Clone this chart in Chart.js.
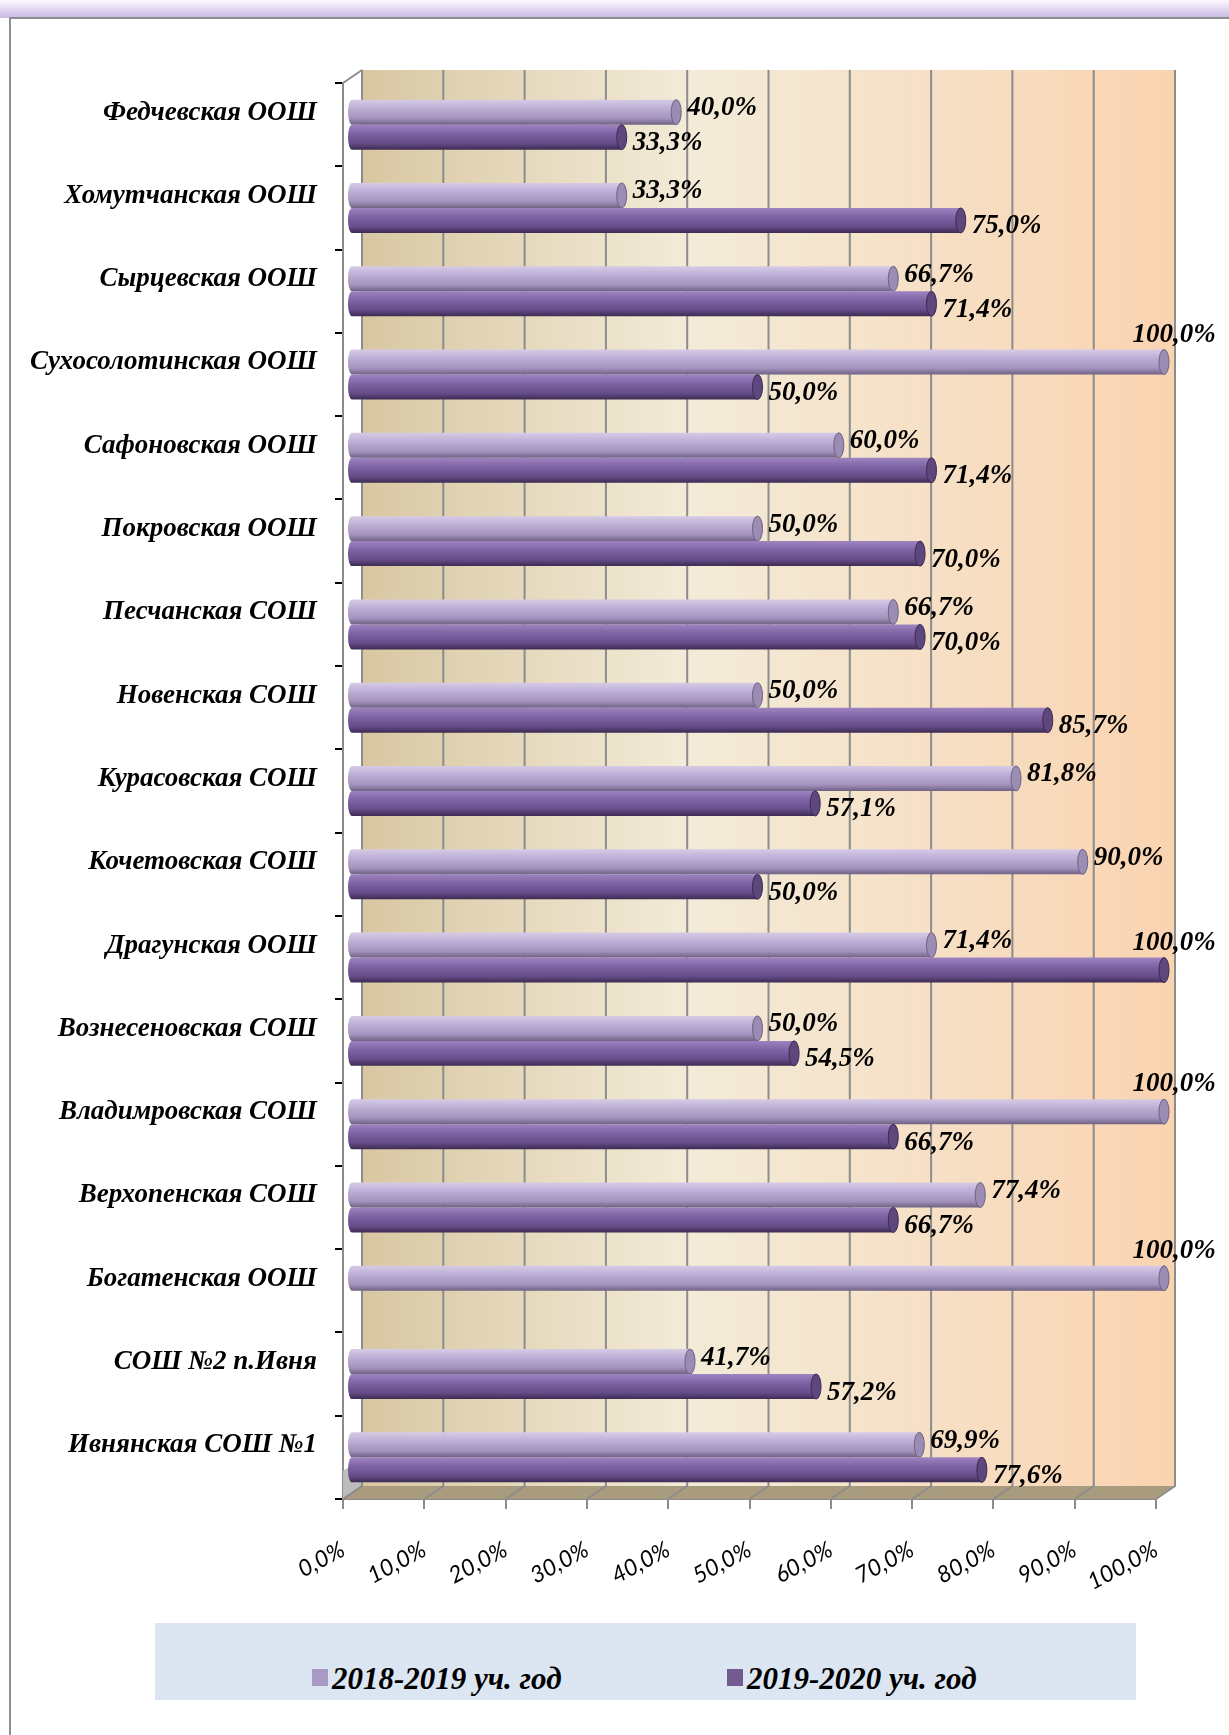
<!DOCTYPE html>
<html>
<head>
<meta charset="utf-8">
<script src="https://cdn.jsdelivr.net/npm/chart.js@4.4.1/dist/chart.umd.min.js"></script>
<style>
  html, body { margin: 0; padding: 0; background: #fff; }
  body { width: 1229px; height: 1735px; position: relative; overflow: hidden; }
  #glow { position: absolute; left: 0; top: 0; width: 1229px; height: 18px; background: linear-gradient(#fbf9fe, #c9b8e4); }
  #frame { position: absolute; left: 9px; top: 17px; width: 1260px; height: 1760px; border: 2px solid #8e8e8e; box-sizing: border-box; }
  #wrap { position: absolute; left: 0; top: 0; width: 1229px; height: 1735px; }
  #legend { position: absolute; left: 155px; top: 1623px; width: 981px; height: 77px; background: #dce6f2; }
  .item { position: absolute; top: 40px; font: italic bold 31px "Liberation Serif", serif; line-height: 31px; color: #000; white-space: nowrap; }
  .item span { display: inline-block; width: 16px; height: 17px; margin-right: 4px; vertical-align: 3px; }
</style>
</head>
<body>
<div id="glow"></div>
<div id="frame"></div>
<div id="wrap"><canvas id="myChart" width="1229" height="1735"></canvas></div>
<div id="legend">
  <div class="item" style="left:157px"><span style="background:#a89ac2"></span>2018-2019 уч. год</div>
  <div class="item" style="left:572px"><span style="background:#735a91"></span>2019-2020 уч. год</div>
</div>
<script>
  const schools = [
    'Федчевская ООШ', 'Хомутчанская ООШ', 'Сырцевская ООШ', 'Сухосолотинская ООШ',
    'Сафоновская ООШ', 'Покровская ООШ', 'Песчанская СОШ', 'Новенская СОШ',
    'Курасовская СОШ', 'Кочетовская СОШ', 'Драгунская ООШ', 'Вознесеновская СОШ',
    'Владимровская СОШ', 'Верхопенская СОШ', 'Богатенская ООШ', 'СОШ №2 п.Ивня',
    'Ивнянская СОШ №1'
  ];
  const year2018 = [40.0, 33.3, 66.7, 100.0, 60.0, 50.0, 66.7, 50.0, 81.8, 90.0, 71.4, 50.0, 100.0, 77.4, 100.0, 41.7, 69.9];
  const year2019 = [33.3, 75.0, 71.4, 50.0, 71.4, 70.0, 70.0, 85.7, 57.1, 50.0, 100.0, 54.5, 66.7, 66.7, null, 57.2, 77.6];
  const seriesNames = ['2018-2019 уч. год', '2019-2020 уч. год'];

  const fmt = v => v.toFixed(1).replace('.', ',') + '%';

  // цвета "цилиндров": светлый и тёмный
  const tubes = [
    { stops: ['#d6cbe6', '#bdaed6', '#a392bd', '#6f6283'], cap: '#9a8cb2', capEdge: '#6f6283' },
    { stops: ['#9d85c0', '#8063a5', '#664c88', '#3c2b52'], cap: '#5e477d', capEdge: '#3c2b52' }
  ];
  const DEPTH = 19, RISE = 13, MID = 8; // столбцы стоят посередине глубины

  // стена, пол и линии сетки "3D"
  const wallPlugin = {
    id: 'wall',
    beforeDatasetsDraw(chart) {
      const { ctx, chartArea: a, scales: { x } } = chart;
      ctx.save();
      const g = ctx.createLinearGradient(a.left + DEPTH, 0, a.right + DEPTH, 0);
      g.addColorStop(0, '#d8c7a1');
      g.addColorStop(0.4, '#f3ebd8');
      g.addColorStop(0.65, '#f6e2c9');
      g.addColorStop(1, '#fad3b0');
      ctx.fillStyle = g;
      ctx.fillRect(a.left + DEPTH, a.top - RISE, a.right - a.left, a.bottom - a.top);
      // пол
      ctx.fillStyle = '#a99c7e';
      ctx.beginPath();
      ctx.moveTo(a.left, a.bottom);
      ctx.lineTo(a.left + DEPTH, a.bottom - RISE);
      ctx.lineTo(a.right + DEPTH, a.bottom - RISE);
      ctx.lineTo(a.right, a.bottom);
      ctx.closePath();
      ctx.fill();
      // боковая стенка внизу
      ctx.fillStyle = '#bdbdbd';
      ctx.beginPath();
      ctx.moveTo(a.left, a.bottom);
      ctx.lineTo(a.left + DEPTH, a.bottom - RISE);
      ctx.lineTo(a.left + DEPTH, a.bottom - RISE - 28);
      ctx.lineTo(a.left, a.bottom - 28);
      ctx.closePath();
      ctx.fill();
      ctx.strokeStyle = '#8c8c8c';
      ctx.lineWidth = 2;
      x.ticks.forEach(t => {
        const px = x.getPixelForValue(t.value);
        ctx.beginPath();
        ctx.moveTo(px + DEPTH, a.top - RISE);
        ctx.lineTo(px + DEPTH, a.bottom - RISE);
        ctx.lineTo(px, a.bottom);
        ctx.stroke();
      });
      ctx.beginPath();
      ctx.moveTo(a.left, a.top);
      ctx.lineTo(a.left + DEPTH, a.top - RISE);
      ctx.stroke();
      ctx.restore();
    }
  };

  // объёмные столбцы и подписи значений
  const tubePlugin = {
    id: 'tubes',
    afterDatasetsDraw(chart) {
      const ctx = chart.ctx;
      ctx.save();
      chart.data.datasets.forEach((ds, di) => {
        const meta = chart.getDatasetMeta(di);
        const st = tubes[di];
        meta.data.forEach((el, i) => {
          const v = ds.data[i];
          if (v === null || v === undefined) return;
          const p = el.getProps(['x', 'y', 'base', 'height'], true);
          const h = p.height, top = p.y - h / 2;
          const x0 = p.base + MID, x1 = p.x + MID;
          const gr = ctx.createLinearGradient(0, top, 0, top + h);
          gr.addColorStop(0, st.stops[0]);
          gr.addColorStop(0.35, st.stops[1]);
          gr.addColorStop(0.75, st.stops[2]);
          gr.addColorStop(1, st.stops[3]);
          ctx.fillStyle = gr;
          ctx.beginPath();
          ctx.ellipse(x0, p.y, 4, h / 2, 0, Math.PI / 2, Math.PI * 1.5);
          ctx.lineTo(x1, top);
          ctx.lineTo(x1, top + h);
          ctx.closePath();
          ctx.fill();
          ctx.fillStyle = st.cap;
          ctx.strokeStyle = st.capEdge;
          ctx.lineWidth = 1;
          ctx.beginPath();
          ctx.ellipse(x1, p.y, 5, h / 2, 0, 0, Math.PI * 2);
          ctx.fill();
          ctx.stroke();

          ctx.fillStyle = '#000';
          ctx.font = 'italic bold 27px "Liberation Serif", serif';
          if (v >= 100) {
            ctx.textAlign = 'center';
            ctx.textBaseline = 'alphabetic';
            ctx.fillText(fmt(v), x1 + 10, top - 8);
          } else {
            ctx.textAlign = 'left';
            ctx.textBaseline = 'middle';
            ctx.fillText(fmt(v), x1 + 11, p.y + (di === 0 ? -4 : 6));
          }
        });
      });
      ctx.restore();
    }
  };

  const config = {
    type: 'bar',
    data: {
      labels: schools,
      datasets: [
        { label: seriesNames[0], data: year2018, backgroundColor: 'rgba(179,164,204,0)' },
        { label: seriesNames[1], data: year2019, backgroundColor: 'rgba(115,90,145,0)' }
      ]
    },
    options: {
      indexAxis: 'y',
      responsive: false,
      animation: false,
      events: [],
      layout: { padding: { left: 0, right: 73, top: 83, bottom: 0 } },
      datasets: { bar: { categoryPercentage: 0.6, barPercentage: 1.0 } },
      plugins: { legend: { display: false }, tooltip: { enabled: false } },
      scales: {
        x: {
          min: 0, max: 100,
          afterFit: s => { s.height = 236; },
          ticks: {
            stepSize: 10,
            callback: v => fmt(v),
            color: '#000',
            font: { family: 'Lato', style: 'italic', size: 23 },
            maxRotation: 28, minRotation: 28,
            padding: 27
          },
          grid: { drawOnChartArea: false, tickLength: 10, color: '#8c8c8c', lineWidth: 2 },
          border: { color: '#8c8c8c', width: 2 }
        },
        y: {
          afterFit: s => { s.width = 343; },
          ticks: {
            color: '#000',
            font: { family: 'Liberation Serif', style: 'italic', weight: 'bold', size: 27 },
            padding: 18,
            labelOffset: -12
          },
          grid: { drawOnChartArea: false, tickLength: 8, color: '#000', lineWidth: 2 },
          border: { color: '#8c8c8c', width: 2 }
        }
      }
    },
    plugins: [wallPlugin, tubePlugin]
  };

  const myChart = new Chart(document.getElementById('myChart'), config);
</script>
</body>
</html>
